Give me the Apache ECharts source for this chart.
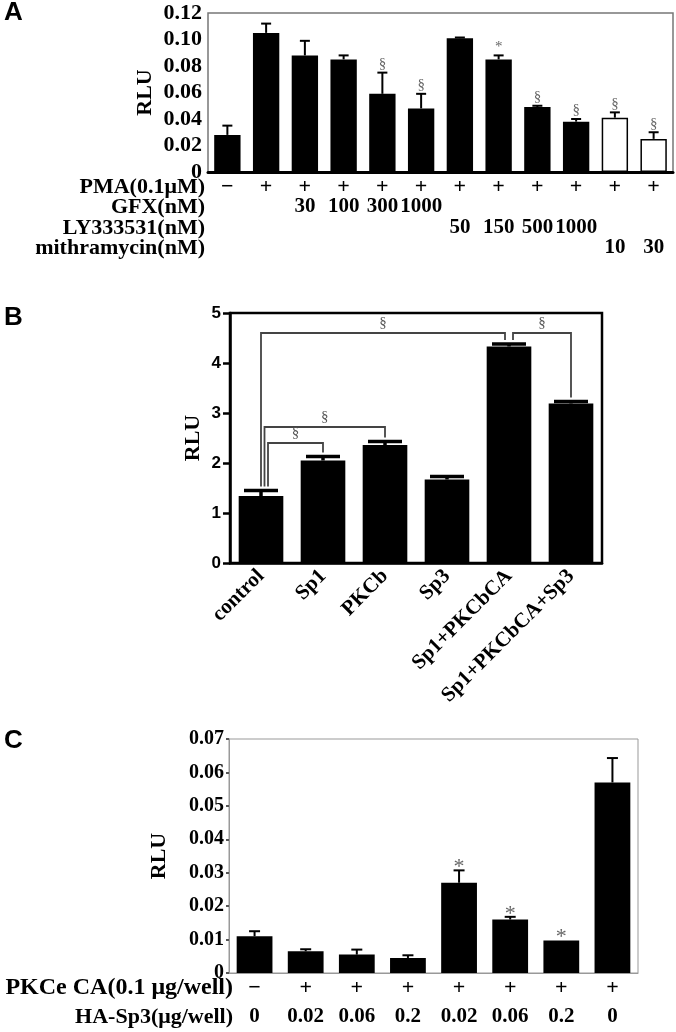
<!DOCTYPE html>
<html>
<head>
<meta charset="utf-8">
<script src="https://cdn.jsdelivr.net/npm/echarts@6/dist/echarts.min.js"></script>
<style>
  html, body { margin: 0; padding: 0; background: #fff; }
  #chart { width: 676px; height: 1032px; }
</style>
</head>
<body>
<div id="chart"></div>
<script>
// ---- panel A : PMA stimulation with inhibitors ----
const pmaRow = ['−', '+', '+', '+', '+', '+', '+', '+', '+', '+', '+', '+']
const gfxRow = ['', '', '30', '100', '300', '1000', '', '', '', '', '', '']
const lyRow = ['', '', '', '', '', '', '50', '150', '500', '1000', '', '']
const mithRow = ['', '', '', '', '', '', '', '', '', '', '10', '30']
const rluA = [0.028, 0.105, 0.088, 0.085, 0.059, 0.048, 0.101, 0.085, 0.049, 0.038, 0.041, 0.025]
const errA = [0.007, 0.007, 0.011, 0.003, 0.016, 0.011, 0.0005, 0.003, 0.001, 0.002, 0.004, 0.005]
const sigA = ['', '', '', '', '§', '§', '', '*', '§', '§', '§', '§']
const ticksA = [0, 0.02, 0.04, 0.06, 0.08, 0.10, 0.12]

// ---- panel B : Sp1 / PKCb co-transfection ----
const groupsB = ['control', 'Sp1', 'PKCb', 'Sp3', 'Sp1+PKCbCA', 'Sp1+PKCbCA+Sp3']
const rluB = [1.34, 2.05, 2.36, 1.67, 4.33, 3.19]
const errB = [0.11, 0.08, 0.07, 0.06, 0.05, 0.04]
// [from group, to group, bracket height]
const bracketsB = [[0, 4, 4.6], [4, 5, 4.6], [0, 2, 2.72], [0, 1, 2.4]]
const ticksB = [0, 1, 2, 3, 4, 5]

// ---- panel C : PKCe CA with HA-Sp3 ----
const pkcRow = ['−', '+', '+', '+', '+', '+', '+', '+']
const sp3Row = ['0', '0.02', '0.06', '0.2', '0.02', '0.06', '0.2', '0']
const rluC = [0.011, 0.0065, 0.0055, 0.0045, 0.027, 0.016, 0.0097, 0.057]
const errC = [0.0015, 0.0006, 0.0015, 0.0008, 0.0037, 0.0008, 0, 0.0073]
const sigC = ['', '', '', '', '*', '*', '*', '']
const ticksC = [0, 0.01, 0.02, 0.03, 0.04, 0.05, 0.06, 0.07]

const SERIF = 'Liberation Serif'
const SANS = 'Liberation Sans'

const fmt2 = v => (v === 0 ? '0' : v.toFixed(2))

// upper error bar + optional significance mark
function errorBars(vals, errs, marks, capW, lw, markFont, markDy) {
    return function (params, api) {
        const i = params.dataIndex
        const base = api.coord([i, vals[i]])
        const top = api.coord([i, vals[i] + errs[i]])
        const kids = []
        if (errs[i] > 0) {
            kids.push({ type: 'line', shape: { x1: base[0], y1: base[1], x2: top[0], y2: top[1] }, style: { stroke: '#000', lineWidth: lw } })
            kids.push({ type: 'line', shape: { x1: top[0] - capW / 2, y1: top[1], x2: top[0] + capW / 2, y2: top[1] }, style: { stroke: '#000', lineWidth: lw } })
        }
        if (marks && marks[i]) {
            kids.push({ type: 'text', x: top[0], y: top[1] + markDy, style: { text: marks[i], font: markFont, fill: '#666', align: 'center', verticalAlign: 'bottom' } })
        }
        return { type: 'group', children: kids }
    }
}

// significance brackets in panel B
function bracketItem(params, api) {
    const b = bracketsB[params.dataIndex]
    const from = b[0], to = b[1]
    const higher = bracketsB.filter(o => o[0] === from && o[2] > b[2]).length
    let dxFrom = higher * 3.5
    if (bracketsB.some(o => o[1] === from)) dxFrom += 4
    const dxTo = bracketsB.some(o => o[0] === to) ? -4 : 0
    const yTop = api.coord([from, b[2]])[1]
    const p1 = api.coord([from, rluB[from] + errB[from] + 0.08])
    const p2 = api.coord([to, rluB[to] + errB[to] + 0.08])
    const x1 = p1[0] + dxFrom, x2 = p2[0] + dxTo
    return {
        type: 'group',
        children: [
            { type: 'polyline', shape: { points: [[x1, p1[1]], [x1, yTop], [x2, yTop], [x2, p2[1]]] }, style: { stroke: '#444', lineWidth: 1.8, fill: null } },
            { type: 'text', x: (x1 + x2) / 2, y: yTop - 2, style: { text: '§', font: '15px ' + SERIF, fill: '#555', align: 'center', verticalAlign: 'bottom' } }
        ]
    }
}

function rowAxis(grid, data, offset, name, size, gap, nameSize) {
    return {
        type: 'category', gridIndex: grid, data, position: 'bottom', offset,
        axisLine: { show: false }, axisTick: { show: false },
        axisLabel: { interval: 0, margin: -Math.round(size / 2), fontFamily: SERIF, fontWeight: 'bold', fontSize: size, color: '#000' },
        name, nameLocation: 'start', nameGap: gap, nameMoveOverlap: false,
        nameTextStyle: { fontFamily: SERIF, fontWeight: 'bold', fontSize: nameSize, color: '#000', verticalAlign: 'middle', align: 'right' }
    }
}

function valueAxis(grid, ticks, opts) {
    return Object.assign({
        type: 'value', gridIndex: grid,
        min: ticks[0], max: ticks[ticks.length - 1], interval: ticks[1] - ticks[0],
        splitLine: { show: false },
        name: 'RLU', nameLocation: 'middle', nameRotate: 90, nameMoveOverlap: false,
        nameTextStyle: { fontFamily: SERIF, fontWeight: 'bold', fontSize: 22, color: '#000' }
    }, opts)
}

const chart = echarts.init(document.getElementById('chart'), null, { renderer: 'canvas' })

const option = {
    animation: false,
    backgroundColor: '#fff',
    title: [
        { text: 'A', left: 4, top: 0, padding: 0, textStyle: { fontFamily: SANS, fontWeight: 'bold', fontSize: 26, color: '#000' } },
        { text: 'B', left: 4, top: 305, padding: 0, textStyle: { fontFamily: SANS, fontWeight: 'bold', fontSize: 26, color: '#000' } },
        { text: 'C', left: 4, top: 728, padding: 0, textStyle: { fontFamily: SANS, fontWeight: 'bold', fontSize: 26, color: '#000' } }
    ],
    grid: [
        { left: 208, top: 13, width: 465, height: 159, show: true, borderColor: '#777', borderWidth: 1.5, outerBoundsMode: 'none' },
        { left: 230, top: 313, width: 372, height: 250, show: true, borderColor: '#000', borderWidth: 2.5, outerBoundsMode: 'none' },
        { left: 229, top: 739, width: 409, height: 234, show: true, borderColor: '#999', borderWidth: 1, outerBoundsMode: 'none' }
    ],
    xAxis: [
        // A
        {
            type: 'category', gridIndex: 0, data: pmaRow,
            axisLine: { lineStyle: { color: '#000', width: 3 } },
            axisTick: { inside: true, length: 3, lineStyle: { color: '#bbb' } },
            axisLabel: { show: false }
        },
        rowAxis(0, pmaRow, 15, 'PMA(0.1μM)', 22, 3, 22),
        rowAxis(0, gfxRow, 35, 'GFX(nM)', 21, 3, 22),
        rowAxis(0, lyRow, 56, 'LY333531(nM)', 21, 3, 22),
        rowAxis(0, mithRow, 76, 'mithramycin(nM)', 21, 3, 22),
        // B
        {
            type: 'category', gridIndex: 1, data: groupsB,
            axisLine: { lineStyle: { color: '#000', width: 2.5 } },
            axisTick: { alignWithLabel: true, length: 8, lineStyle: { color: '#000', width: 2.5 } },
            axisLabel: { interval: 0, rotate: 45, margin: 10, fontFamily: SERIF, fontWeight: 'bold', fontSize: 21, color: '#000' }
        },
        // C
        {
            type: 'category', gridIndex: 2, data: pkcRow,
            axisLine: { lineStyle: { color: '#999', width: 1 } },
            axisTick: { show: false },
            axisLabel: { show: false }
        },
        rowAxis(2, pkcRow, 15, 'PKCe CA(0.1 μg/well)', 22, -4, 24),
        rowAxis(2, sp3Row, 44, 'HA-Sp3(μg/well)', 21, -4, 22)
    ],
    yAxis: [
        valueAxis(0, ticksA, {
            nameGap: 52,
            axisLine: { show: false }, axisTick: { show: false },
            axisLabel: { formatter: fmt2, margin: 6, fontFamily: SERIF, fontWeight: 'bold', fontSize: 22, color: '#000' }
        }),
        valueAxis(1, ticksB, {
            nameGap: 26,
            axisLine: { show: true, lineStyle: { color: '#000', width: 2.5 } },
            axisTick: { show: true, length: 7, lineStyle: { color: '#000', width: 2.5 } },
            axisLabel: { margin: 9, fontFamily: SANS, fontWeight: 'bold', fontSize: 17, color: '#000' }
        }),
        valueAxis(2, ticksC, {
            nameGap: 59,
            axisLine: { show: true, lineStyle: { color: '#999', width: 1 } },
            axisTick: { show: true, length: 3, lineStyle: { color: '#555', width: 2 } },
            axisLabel: { formatter: fmt2, margin: 5, fontFamily: SERIF, fontWeight: 'bold', fontSize: 20, color: '#000' }
        })
    ],
    series: [
        {
            type: 'bar', xAxisIndex: 0, yAxisIndex: 0, barWidth: '68%',
            data: rluA.map((v, i) => ({
                value: v,
                // mithramycin groups are drawn as open bars
                itemStyle: mithRow[i] ? { color: '#fff', borderColor: '#000', borderWidth: 1.5 } : { color: '#000' }
            }))
        },
        {
            type: 'custom', xAxisIndex: 0, yAxisIndex: 0, z: 5,
            renderItem: errorBars(rluA, errA, sigA, 10, 2, '15px ' + SERIF, -1),
            data: rluA.map((v, i) => [i, v + errA[i]]),
            encode: { x: 0, y: 1 }
        },
        {
            type: 'bar', xAxisIndex: 5, yAxisIndex: 1, barWidth: '72%',
            itemStyle: { color: '#000' },
            data: rluB
        },
        {
            type: 'custom', xAxisIndex: 5, yAxisIndex: 1, z: 5,
            renderItem: errorBars(rluB, errB, null, 34, 3.5, '', 0),
            data: rluB.map((v, i) => [i, v + errB[i]]),
            encode: { x: 0, y: 1 }
        },
        {
            type: 'custom', xAxisIndex: 5, yAxisIndex: 1, z: 6,
            renderItem: bracketItem,
            data: bracketsB.map(b => [b[0], b[2]]),
            encode: { x: 0, y: 1 }
        },
        {
            type: 'bar', xAxisIndex: 6, yAxisIndex: 2, barWidth: '70%',
            itemStyle: { color: '#000' },
            data: rluC
        },
        {
            type: 'custom', xAxisIndex: 6, yAxisIndex: 2, z: 5,
            renderItem: errorBars(rluC, errC, sigC, 11, 2, '22px ' + SERIF, 8),
            data: rluC.map((v, i) => [i, v + errC[i]]),
            encode: { x: 0, y: 1 }
        }
    ]
}

chart.setOption(option)
</script>
</body>
</html>
